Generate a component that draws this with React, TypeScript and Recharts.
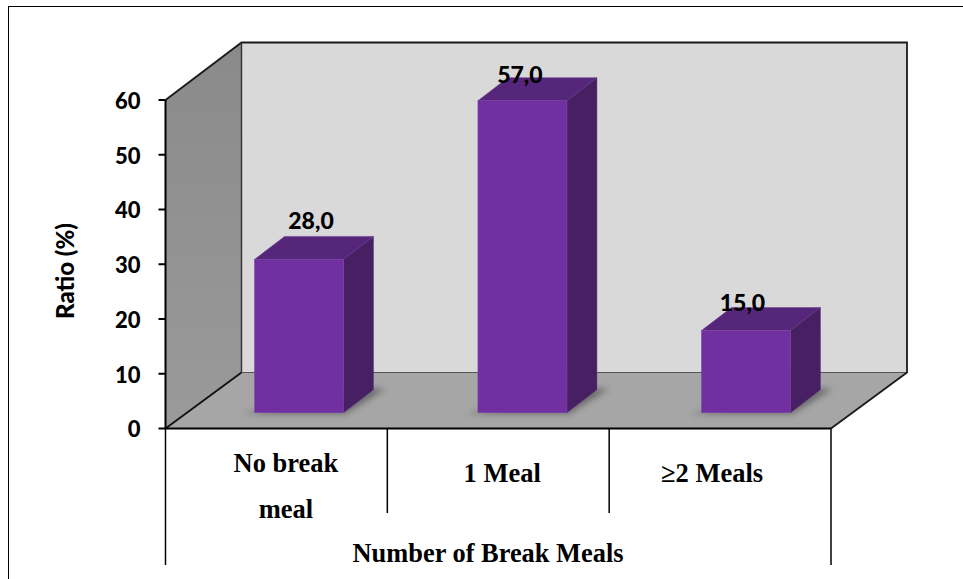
import { BarChart, Bar, XAxis, YAxis, LabelList, Customized } from 'recharts';

const categories = ['No break meal', '1 Meal', '≥2 Meals'];
const ratios = [28.0, 57.0, 15.0];
const valueLabels = ['28,0', '57,0', '15,0'];
const yTicks = [0, 10, 20, 30, 40, 50, 60];
const categoryLines: Record<string, string[]> = {
  'No break meal': ['No break', 'meal'],
};

const data = categories.map((name, i) => ({ name, ratio: ratios[i], label: valueLabels[i] }));

const W = 963;
const H = 579;
const LEFT = 165.5;
const RIGHT = 831;
const TOP = 100;
const BOTTOM = 428.5;
// depth of the box the chart sits in, slightly deeper at the top
const DX = 76;
const DY_TOP = 57.5;
const DY_BOTTOM = 56;
// depth of a column and its lift off the front edge of the floor
const BAR_DX = 30;
const BAR_DY = 23;
const BAR_SHIFT_Y = 15.8;
const barShiftX = [23, 24.6, 26.3];

const sans = 'Lato, Carlito, Calibri, sans-serif';
const serif = '"Liberation Serif", "Times New Roman", serif';
const sansWeight = 900;

const pts = (list: number[][]) => list.map(p => p.join(',')).join(' ');

const Walls = () => {
  const backTop = TOP - DY_TOP;
  const backBottom = BOTTOM - DY_BOTTOM;
  return (
    <g>
      <defs>
        <linearGradient id="sideWall" x1="0" y1="0" x2="0" y2="1">
          <stop offset="0%" stopColor="#8a8a8a" />
          <stop offset="100%" stopColor="#9a9a9a" />
        </linearGradient>
        <filter id="floorShadow" x="-20%" y="-40%" width="140%" height="180%">
          <feGaussianBlur stdDeviation="3" />
        </filter>
      </defs>
      <polygon
        points={pts([[LEFT + DX, backTop], [RIGHT + DX, backTop], [RIGHT + DX, backBottom], [LEFT + DX, backBottom]])}
        fill="#d9d9d9"
      />
      <polygon
        points={pts([[LEFT, TOP], [LEFT + DX, backTop], [LEFT + DX, backBottom], [LEFT, BOTTOM]])}
        fill="url(#sideWall)"
      />
      <polygon
        points={pts([[LEFT, BOTTOM], [LEFT + DX, backBottom], [RIGHT + DX, backBottom], [RIGHT, BOTTOM]])}
        fill="#a6a6a6"
      />
      <line x1={LEFT + DX} y1={backBottom} x2={RIGHT + DX} y2={backBottom} stroke="#555" strokeWidth={1} />
      <polyline
        points={pts([[LEFT, TOP], [LEFT + DX, backTop], [RIGHT + DX, backTop], [RIGHT + DX, backBottom], [RIGHT, BOTTOM]])}
        fill="none"
        stroke="#1a1a1a"
        strokeWidth={1.8}
      />
      <line x1={LEFT + DX} y1={backTop} x2={LEFT + DX} y2={backBottom} stroke="#333" strokeWidth={1.4} />
      <line x1={LEFT} y1={BOTTOM} x2={LEFT + DX} y2={backBottom} stroke="#111" strokeWidth={1.8} />
    </g>
  );
};

const Column = (props: any) => {
  const { x, y, width, height, index } = props;
  const fx = x + barShiftX[index];
  const top = y - BAR_SHIFT_Y;
  const bottom = top + height;
  const rx = fx + width;
  return (
    <g>
      <polygon
        points={pts([[fx - 12, bottom + 1], [rx + 2, bottom + 1], [rx + BAR_DX + 12, bottom - BAR_DY - 1], [rx + BAR_DX - 6, bottom - BAR_DY - 1]])}
        fill="#555"
        opacity={0.75}
        filter="url(#floorShadow)"
      />
      <polygon
        points={pts([[fx, top], [fx + BAR_DX, top - BAR_DY], [rx + BAR_DX, top - BAR_DY], [rx, top]])}
        fill="#55267a"
        stroke="#6a3a90"
        strokeWidth={0.5}
      />
      <polygon
        points={pts([[rx, top], [rx + BAR_DX, top - BAR_DY], [rx + BAR_DX, bottom - BAR_DY], [rx, bottom]])}
        fill="#472063"
        stroke="#5f3583"
        strokeWidth={0.5}
      />
      <rect x={fx} y={top} width={width} height={height} fill="#7030a0" stroke="#7c40a8" strokeWidth={0.5} />
    </g>
  );
};

// hand-placed value labels, relative to the front face of the column
const labelNudgeX = [12, -2.5, -3.5];
const labelNudgeY = [-39.5, -26.3, -29];

const ValueLabel = (props: any) => {
  const { x, y, width, index, value } = props;
  return (
    <text
      x={x + barShiftX[index] + width / 2 + labelNudgeX[index]}
      y={y - BAR_SHIFT_Y + labelNudgeY[index]}
      textAnchor="middle"
      dominantBaseline="central"
      fontFamily={sans}
      fontWeight={sansWeight}
      fontSize={23}
      fill="#000"
    >
      {value}
    </text>
  );
};

const categoryNudgeX = [9.5, 4, -8];

const CategoryTick = (props: any) => {
  const { x, payload, index } = props;
  const band = (RIGHT - LEFT) / categories.length;
  const lines = categoryLines[payload.value] ?? [payload.value];
  const labelX = x + categoryNudgeX[index];
  return (
    <g>
      <line x1={x - band / 2} y1={BOTTOM} x2={x - band / 2} y2={index === 0 ? 565 : 513} stroke="#000" strokeWidth={1.5} />
      {index === categories.length - 1 && (
        <line x1={x + band / 2} y1={BOTTOM} x2={x + band / 2} y2={565} stroke="#000" strokeWidth={1.5} />
      )}
      {lines.map((line, i) => (
        <text
          key={line}
          x={labelX}
          y={lines.length > 1 ? 463 + i * 46 : 473}
          textAnchor="middle"
          dominantBaseline="central"
          fontFamily={serif}
          fontWeight={700}
          fontSize={26.5}
          fill="#000"
        >
          {line}
        </text>
      ))}
    </g>
  );
};

const XTitle = () => (
  <text x={488} y={553} textAnchor="middle" dominantBaseline="central" fontFamily={serif} fontWeight={700} fontSize={26.4} fill="#000">
    Number of Break Meals
  </text>
);

const YTitle = () => (
  <text
    x={64}
    y={271}
    transform="rotate(-90 64 271)"
    textAnchor="middle"
    dominantBaseline="central"
    fontFamily={sans}
    fontWeight={sansWeight}
    fontSize={24}
    fill="#000"
  >
    Ratio (%)
  </text>
);

const App = () => (
  <div style={{ position: 'absolute', left: 0, top: 0, width: W, height: H, background: '#fff', overflow: 'hidden' }}>
    <div style={{ position: 'absolute', left: 8, top: 5.5, width: 1200, height: 800, border: '1.5px solid #000', boxSizing: 'border-box' }} />
    <BarChart
      width={W}
      height={H}
      data={data}
      margin={{ top: TOP, bottom: 0, left: 0, right: W - RIGHT }}
      style={{ position: 'absolute', left: 0, top: 0 }}
    >
      <Customized component={Walls} />
      <XAxis
        dataKey="name"
        height={H - BOTTOM}
        interval={0}
        tickLine={false}
        axisLine={{ stroke: '#000', strokeWidth: 2 }}
        tick={CategoryTick}
        label={{ content: XTitle }}
      />
      <YAxis
        width={LEFT}
        domain={[0, 60]}
        ticks={yTicks}
        interval={0}
        tickSize={7}
        tickMargin={18}
        tickLine={{ stroke: '#000', strokeWidth: 2 }}
        axisLine={{ stroke: '#000', strokeWidth: 2 }}
        tick={{ fontFamily: sans, fontWeight: sansWeight, fontSize: 22, fill: '#000', dy: 1 }}
        label={{ content: YTitle }}
      />
      <Bar dataKey="ratio" barSize={89} fill="#7030a0" shape={Column} isAnimationActive={false}>
        <LabelList dataKey="label" content={ValueLabel} />
      </Bar>
    </BarChart>
  </div>
);

export default App;
